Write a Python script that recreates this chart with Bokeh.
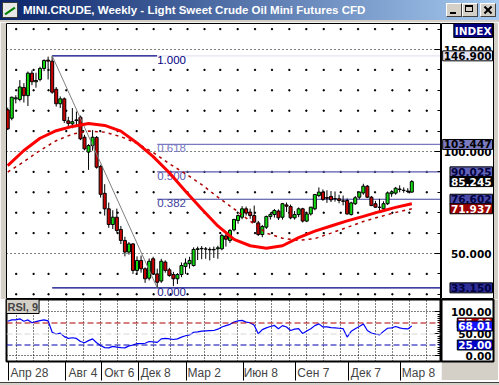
from bokeh.plotting import figure
from bokeh.models import ColumnDataSource, FixedTicker, Span, Label, Div, Range1d
from bokeh.layouts import column, row
from bokeh.embed import file_html
from bokeh.resources import INLINE
from bokeh.core.properties import value

# ---------------------------------------------------------------- data
TITLE = "MINI.CRUDE, Weekly - Light Sweet Crude Oil Mini Futures CFD"

# weekly bars, week 0 = Apr 28 2008
opens = [120.4, 116.3, 125.8, 125.5, 131.4, 127.4, 138.4, 134.2, 135.3, 140.7,
         144.8, 144.3, 130.5, 123.4, 125.8, 115.0, 113.6, 115.2, 116.8, 107.0,
         99.7, 102.9, 106.9, 92.6, 79.5, 71.9, 64.2, 67.8, 61.8, 56.4,
         50.7, 54.7, 41.7, 46.6, 42.5, 37.9, 47.4, 40.0, 36.5, 45.8,
         42.0, 39.7, 37.6, 39.7, 43.6, 45.0, 44.1, 52.0, 52.3, 52.2,
         52.0, 51.8, 52.3, 52.3, 58.6, 56.4, 61.6, 66.2, 67.8, 71.9,
         70.3, 68.6, 65.0, 59.3, 62.9, 68.1, 69.1, 70.8, 67.8, 73.8,
         73.0, 67.5, 69.1, 71.9, 65.9, 69.4, 71.9, 78.4, 80.1, 77.4,
         78.0, 76.9, 76.8, 75.8, 76.0, 69.1, 74.4, 77.6, 79.7, 83.0,
         77.6, 74.4, 72.7, 71.9, 74.4, 79.3, 79.6, 81.6, 81.0, 80.6,
         80.1]
highs = [121.5, 126.9, 127.6, 135.0, 133.5, 139.2, 139.8, 138.6, 141.6, 145.2,
         146.5, 146.9, 131.6, 127.0, 126.5, 117.0, 121.3, 119.6, 117.6, 108.2,
         103.6, 110.5, 107.6, 93.5, 84.0, 75.0, 71.2, 72.0, 63.5, 58.2,
         55.6, 55.1, 48.6, 49.0, 43.2, 47.6, 48.4, 42.6, 47.4, 46.6,
         43.0, 41.0, 40.4, 45.6, 47.6, 48.4, 53.0, 53.4, 53.6, 53.2,
         53.0, 53.4, 53.8, 59.6, 59.8, 62.0, 67.0, 69.2, 73.2, 73.0,
         72.0, 73.5, 66.0, 64.0, 68.6, 70.2, 71.8, 71.6, 74.8, 75.0,
         74.0, 70.8, 72.6, 72.4, 70.4, 72.9, 79.2, 82.4, 81.4, 81.0,
         80.6, 80.4, 78.8, 78.4, 77.0, 75.4, 78.2, 80.4, 84.2, 83.6,
         78.2, 75.8, 76.8, 75.6, 80.4, 81.0, 82.6, 83.4, 82.4, 82.0,
         86.0]
lows = [110.5, 115.3, 123.6, 124.6, 124.0, 122.3, 132.5, 131.3, 134.4, 139.4,
        135.3, 128.3, 122.0, 121.3, 114.0, 111.6, 111.4, 112.2, 105.6, 100.6,
        91.0, 100.4, 91.6, 77.4, 68.6, 62.6, 62.0, 60.2, 54.6, 48.6,
        49.4, 40.0, 40.4, 40.6, 35.6, 36.8, 39.6, 33.15, 35.6, 40.6,
        38.6, 34.0, 35.0, 38.4, 40.0, 42.6, 43.6, 46.8, 47.2, 47.4,
        46.6, 47.8, 47.4, 51.6, 53.4, 55.2, 60.8, 64.6, 66.8, 68.6,
        67.0, 65.0, 58.6, 58.0, 62.0, 66.6, 67.6, 66.4, 66.6, 70.4,
        66.8, 66.6, 67.8, 65.2, 65.4, 68.6, 71.2, 77.6, 75.8, 74.8,
        75.2, 75.4, 74.6, 73.6, 69.0, 68.6, 73.8, 76.6, 78.8, 77.2,
        73.2, 72.4, 70.2, 71.0, 73.8, 77.8, 78.8, 80.0, 79.8, 79.6,
        79.8]
closes = [111.1, 126.6, 126.3, 131.6, 127.4, 138.4, 134.2, 134.8, 140.7, 144.6,
          144.3, 129.1, 123.4, 125.8, 115.2, 113.8, 114.6, 115.5, 106.2, 101.3,
          102.9, 107.0, 92.3, 79.0, 71.9, 64.2, 67.8, 61.3, 56.4, 50.7,
          54.7, 41.7, 46.6, 42.5, 37.6, 46.2, 40.0, 35.9, 46.2, 41.7,
          39.2, 37.6, 39.7, 44.1, 45.3, 46.6, 52.0, 52.3, 52.5, 52.2,
          51.8, 52.0, 52.8, 58.8, 57.0, 61.3, 66.7, 68.6, 71.9, 69.8,
          68.6, 65.4, 59.3, 63.2, 68.1, 69.1, 71.1, 67.5, 74.4, 73.2,
          67.5, 69.1, 71.9, 65.9, 69.4, 72.7, 78.9, 80.1, 76.5, 77.1,
          76.3, 76.8, 76.0, 75.6, 69.4, 74.8, 77.3, 80.1, 83.0, 77.6,
          73.5, 72.7, 72.6, 74.4, 79.7, 80.2, 82.0, 81.4, 80.9, 80.4,
          85.245]

# moving averages every 4 weeks
ma_weeks = [0, 4, 8, 12, 16, 20, 24, 28, 32, 36, 40, 44, 48, 52, 56, 60, 64,
            68, 72, 76, 80, 84, 88, 92, 96, 100]
ma_solid = [93.1, 100.5, 106.5, 110.2, 112.3, 113.7, 112.8, 110.0, 104.2, 97.5,
            89.6, 80.5, 71.8, 63.5, 56.9, 53.8, 52.6, 53.8, 57.8, 61.0,
            63.5, 66.0, 68.2, 70.5, 72.6, 74.4]
ma_dashed = [89.9, 95.0, 100.5, 105.3, 108.5, 110.0, 109.5, 107.3, 104.0, 99.5,
             94.0, 89.1, 83.8, 77.6, 71.9, 65.9, 60.0, 57.5, 56.4, 57.3,
             60.0, 62.8, 65.7, 68.0, 70.1, 71.937]

# RSI(9), one value per week
rsi = [79, 82, 82, 84.5, 79, 82, 75.5, 78, 80.5, 82,
       80, 54, 50, 52, 44, 40, 41.5, 40, 33, 30,
       35, 39, 30, 24, 19, 18.5, 22, 20, 19, 18.5,
       23, 25, 28, 28, 29, 33, 32, 31, 39, 40,
       39, 37.5, 39, 43, 46, 48, 54, 55, 56.5, 57,
       57.5, 58, 61, 66, 69, 72, 77, 80, 81, 77,
       75.5, 70, 50.5, 60, 64, 67, 69.5, 62, 69, 66,
       58, 61, 62, 51, 57, 62, 69, 73, 66, 66,
       64.5, 64, 63, 62, 43, 56, 62, 67, 73, 58,
       52, 50, 48, 56, 63, 64, 67, 64, 62, 61.5,
       68.01]
rsi_levels = [75, 50, 25]

# Fibonacci retracement from the high to the low
fib_high_week, fib_high = 11, 146.9
fib_low_week, fib_low = 37, 33.15
fib_ratios = [1.0, 0.618, 0.5, 0.382, 0.0]
fib_values = [146.900, 103.447, 90.025, 76.602, 33.150]

# axes
date_tick_weeks = [0, 14, 23, 32, 44, 58, 71, 84, 97]
date_tick_labels = ["Апр 28", "Авг 4", "Окт 6", "Дек 8", "Мар 2",
                    "Июн 8", "Сен 7", "Дек 7", "Мар 8"]
grid_weeks = [2.1, 6.4, 10.1, 14.5, 18.7, 22.9, 27.2, 31.9, 36.1, 40.3, 44.5,
              48.7, 52.6, 56.9, 61.2, 65.4, 69.7, 73.9, 78.2, 82.4, 86.7,
              90.9, 95.2, 99.4, 103.7]
price_ticks = [50, 100, 150]
price_minor = [30, 40, 60, 70, 80, 90, 110, 120, 130, 140, 160]
rsi_ticks = [0, 50, 100]

# ---------------------------------------------------------------- style
GRAY = "#d4d0c8"
UP, DOWN = "#10dc10", "#cc0000"
LAB_FONT = "DejaVu Sans"
SANS = "Liberation Sans"
W_FRAME = 434
SIDE_W = 52
X0, X1 = -0.3, 107.1
PY0, PY1 = 27.45, 162.75
RY0, RY1 = -12.5, 128.4
UNIT = (X1 - X0) / W_FRAME          # data units per pixel
x_range = Range1d(X0, X1)
py_range = Range1d(PY0, PY1)
ry_range = Range1d(RY0, RY1)

fib_colors = ["#000080", "#7878c0", "#5a5ab0", "#40409c", "#1c1c8c"]
fib_box = ["#e4e4f4", "#7b7bc2", "#6262b6", "#4a4aa8", "#2e2e98"]
fib_text = ["#000000", "#000000", "#000040", "#000040", "#000040"]

# ---------------------------------------------------------------- title bar
def btn(left, inner):
    return ('<div style="position:absolute;left:%dpx;top:3px;width:16px;height:14px;'
            'background:%s;box-sizing:border-box;border:1px solid;'
            'border-color:#ffffff #404040 #404040 #ffffff;">%s</div>' % (left, GRAY, inner))

bar = '<div style="position:absolute;left:%dpx;top:%dpx;width:%dpx;height:2px;background:#000;%s"></div>'
title_html = (
    '<div style="position:relative;width:499px;height:20px;overflow:hidden;margin:0;'
    'background:linear-gradient(to right,#0a246a,#a6caf0);">'
    '<div style="position:absolute;left:2px;top:2px;width:16px;height:16px;background:#e8e8e8;'
    'border:1px solid #3a3a3a;box-sizing:border-box;">'
    + bar % (1, 7, 12, "background:#008000;transform:rotate(-35deg);") +
    '</div>'
    '<span style="position:absolute;left:23px;top:3px;font-family:\'Liberation Sans\';'
    'font-weight:bold;font-size:11.5px;line-height:14px;color:#ffffff;white-space:nowrap;">'
    + TITLE + '</span>'
    + btn(446, bar % (3, 8, 6, ""))
    + btn(462, '<div style="position:absolute;left:2px;top:1px;width:8px;height:7px;'
               'border:1px solid #000;border-top-width:2px;"></div>')
    + btn(480, bar % (2, 5, 10, "transform:rotate(45deg);") + bar % (2, 5, 10, "transform:rotate(-45deg);"))
    + '</div><div style="width:499px;height:2px;margin:0;background:%s;"></div>' % GRAY
)
title = Div(text=title_html, width=499, height=22, margin=0,
            styles={"overflow": "hidden", "line-height": "0"})

# bottom window edge
bottom_strip = Div(text='<div style="width:499px;height:4px;margin:0;background:%s;'
                        'border-top:1px solid #404040;"></div>' % GRAY,
                   width=499, height=5, margin=0,
                   styles={"overflow": "hidden", "line-height": "0"})


def main_fig(y_range, frame_h, top, bottom, x_loc, fill, outline_w):
    return figure(frame_width=W_FRAME, frame_height=frame_h, x_range=x_range, y_range=y_range,
                  output_backend="svg", toolbar_location=None, tools="",
                  x_axis_location=x_loc, y_axis_location="right",
                  min_border_left=6, min_border_right=1, min_border_top=top,
                  min_border_bottom=bottom, border_fill_color=fill,
                  background_fill_color="white", outline_line_color="black",
                  outline_line_width=outline_w, margin=0)


def side_fig(y_range, frame_h, top, bottom):
    s = figure(frame_width=SIDE_W, frame_height=frame_h, x_range=Range1d(0, SIDE_W),
               y_range=y_range, output_backend="svg", toolbar_location=None, tools="",
               x_axis_location=None, y_axis_location=None,
               min_border_left=0, min_border_right=5, min_border_top=top, min_border_bottom=bottom,
               border_fill_color=GRAY, background_fill_color="white",
               outline_line_color="black", margin=0)
    s.grid.grid_line_color = None
    return s


def style_value_axis(ax, ticks, minor):
    ax.ticker = FixedTicker(ticks=ticks, minor_ticks=minor)
    ax.major_tick_in, ax.major_tick_out = 6, 0
    ax.minor_tick_in, ax.minor_tick_out = 3, 0
    ax.major_label_overrides = {t: "" for t in ticks}
    ax.major_label_standoff = 0
    ax.axis_line_color = "black"


def side_label(fig, y, txt, bg=None, fg="black", base="middle"):
    lab = Label(x=SIDE_W - 1, y=y, text=txt, text_align="right", text_baseline=base,
                text_font=LAB_FONT, text_font_size="10.5px", text_font_style="bold",
                text_color=fg, padding=1)
    if bg is not None:
        lab.background_fill_color = bg
        lab.border_line_color = "#000000"
    fig.add_layout(lab)

# ---------------------------------------------------------------- price panel
weeks = list(range(len(closes)))
src = ColumnDataSource(dict(
    x=weeks, high=highs, low=lows,
    top=[max(o, c) for o, c in zip(opens, closes)],
    bottom=[min(o, c) for o, c in zip(opens, closes)],
    color=[UP if c >= o else DOWN for o, c in zip(opens, closes)],
))

p = main_fig(py_range, 276, 1, 0, None, GRAY, 1)
style_value_axis(p.yaxis[0], price_ticks, price_minor)
p.xgrid.grid_line_color = None
p.ygrid.ticker = FixedTicker(ticks=price_ticks)
p.ygrid.grid_line_color = "black"
p.ygrid.grid_line_dash = "1 3"

# grid dots
p.scatter([g for g in grid_weeks for _ in price_minor],
          [lv for _ in grid_weeks for lv in price_minor],
          marker="square", size=1.2, color="black")

# fibonacci lines
p.segment(x0=[fib_high_week, fib_high_week], y0=[fib_high, fib_low],
          x1=[fib_low_week, X1], y1=[fib_high, fib_low], color="#000080", line_width=1.2)
p.segment(x0=[fib_low_week] * 4, y0=fib_values[:4], x1=[X1] * 4, y1=fib_values[:4],
          color=[fib_box[0]] + fib_colors[1:4], line_width=1.2)
p.text(x=[fib_low_week] * 5, y=fib_values, text=["%.3f" % r for r in fib_ratios],
       text_color=fib_colors, text_font=value(SANS), text_font_size="11.5px",
       text_baseline="top", text_align="left")

# candles
p.segment(x0="x", y0="low", x1="x", y1="high", source=src, color="black", line_width=1)
p.vbar(x="x", width=0.75, top="top", bottom="bottom", source=src,
       fill_color="color", line_color="black", line_width=1)

# trend line high -> low
p.line([fib_high_week, fib_low_week], [fib_high, fib_low], color="#808080", line_width=1)

# moving averages
p.line(ma_weeks, ma_dashed, color="#b00000", line_width=1.5, line_dash="3 4")
p.line(ma_weeks, ma_solid, color="#ff0000", line_width=3)

# price scale column
ps = side_fig(py_range, 276, 1, 0)
for t in price_ticks:
    side_label(ps, t, "%.3f" % t)
side_label(ps, PY1, "INDEX", bg="#000080", fg="white", base="top")
for i in [0, 1, 2]:
    side_label(ps, fib_values[i], "%.3f" % fib_values[i], fib_box[i], fib_text[i])
side_label(ps, closes[-1], "%.3f" % closes[-1], "black", "white")
side_label(ps, fib_values[3], "%.3f" % fib_values[3], fib_box[3], fib_text[3])
side_label(ps, ma_dashed[-1], "%.3f" % ma_dashed[-1], "#a00000", "white")
side_label(ps, fib_values[4], "%.3f" % fib_values[4], fib_box[4], fib_text[4])

# ---------------------------------------------------------------- RSI panel
r = main_fig(ry_range, 62, 0, 19, "below", "white", 2)
style_value_axis(r.yaxis[0], rsi_ticks, list(range(0, 101, 5)))
r.xgrid.ticker = FixedTicker(ticks=grid_weeks)
r.xgrid.grid_line_color = "black"
r.xgrid.grid_line_dash = "1 2"
r.ygrid.ticker = FixedTicker(ticks=[0, 100])
r.ygrid.grid_line_color = "black"
r.ygrid.grid_line_dash = "1 2"

lvl_colors = ["#b00000", "#d8d8d8", "#0000b0"]
for lv, c in zip(rsi_levels, lvl_colors):
    r.add_layout(Span(location=lv, dimension="width", line_color=c,
                      line_dash="6 3", line_width=1.2))
r.line(weeks, rsi, color="#0000ff", line_width=1.2)

# date axis: separators as minor ticks, labels centred just right of them
xa = r.xaxis[0]
sep_pos = [round(w + 0.3, 2) for w in date_tick_weeks]
lab_pos = [round(s + (2 + 3.1 * len(t)) * UNIT, 2) for s, t in zip(sep_pos, date_tick_labels)]
xa.ticker = FixedTicker(ticks=lab_pos, minor_ticks=sep_pos)
xa.major_label_overrides = {k: v for k, v in zip(lab_pos, date_tick_labels)}
xa.major_label_text_font = SANS
xa.major_label_text_font_size = "12px"
xa.major_label_standoff = -15
xa.major_tick_in, xa.major_tick_out = 0, 0
xa.minor_tick_in, xa.minor_tick_out = 0, 19
xa.minor_tick_line_color = "black"
xa.axis_line_color = "black"

r.add_layout(Label(x=X0, y=RY1, text="RSI, 9", text_baseline="top", text_align="left",
                   text_font=SANS, text_font_size="11px", text_font_style="bold",
                   background_fill_color=GRAY, border_line_color="black", padding=1))

rs = side_fig(ry_range, 62, 0, 19)
rs.outline_line_width = 2
for t in rsi_ticks:
    side_label(rs, t, "%.2f" % t)
side_label(rs, rsi_levels[0], "%.2f" % rsi_levels[0], "#c00000", "white")
side_label(rs, rsi[-1], "%.2f" % rsi[-1], "#1414ff", "white")
side_label(rs, rsi_levels[2], "%.2f" % rsi_levels[2], "#0000c8", "white")

layout = column(title, row(p, ps, spacing=0, margin=0), row(r, rs, spacing=0, margin=0),
                bottom_strip, spacing=0, margin=0)
open("out.html", "w").write(file_html(layout, INLINE))
